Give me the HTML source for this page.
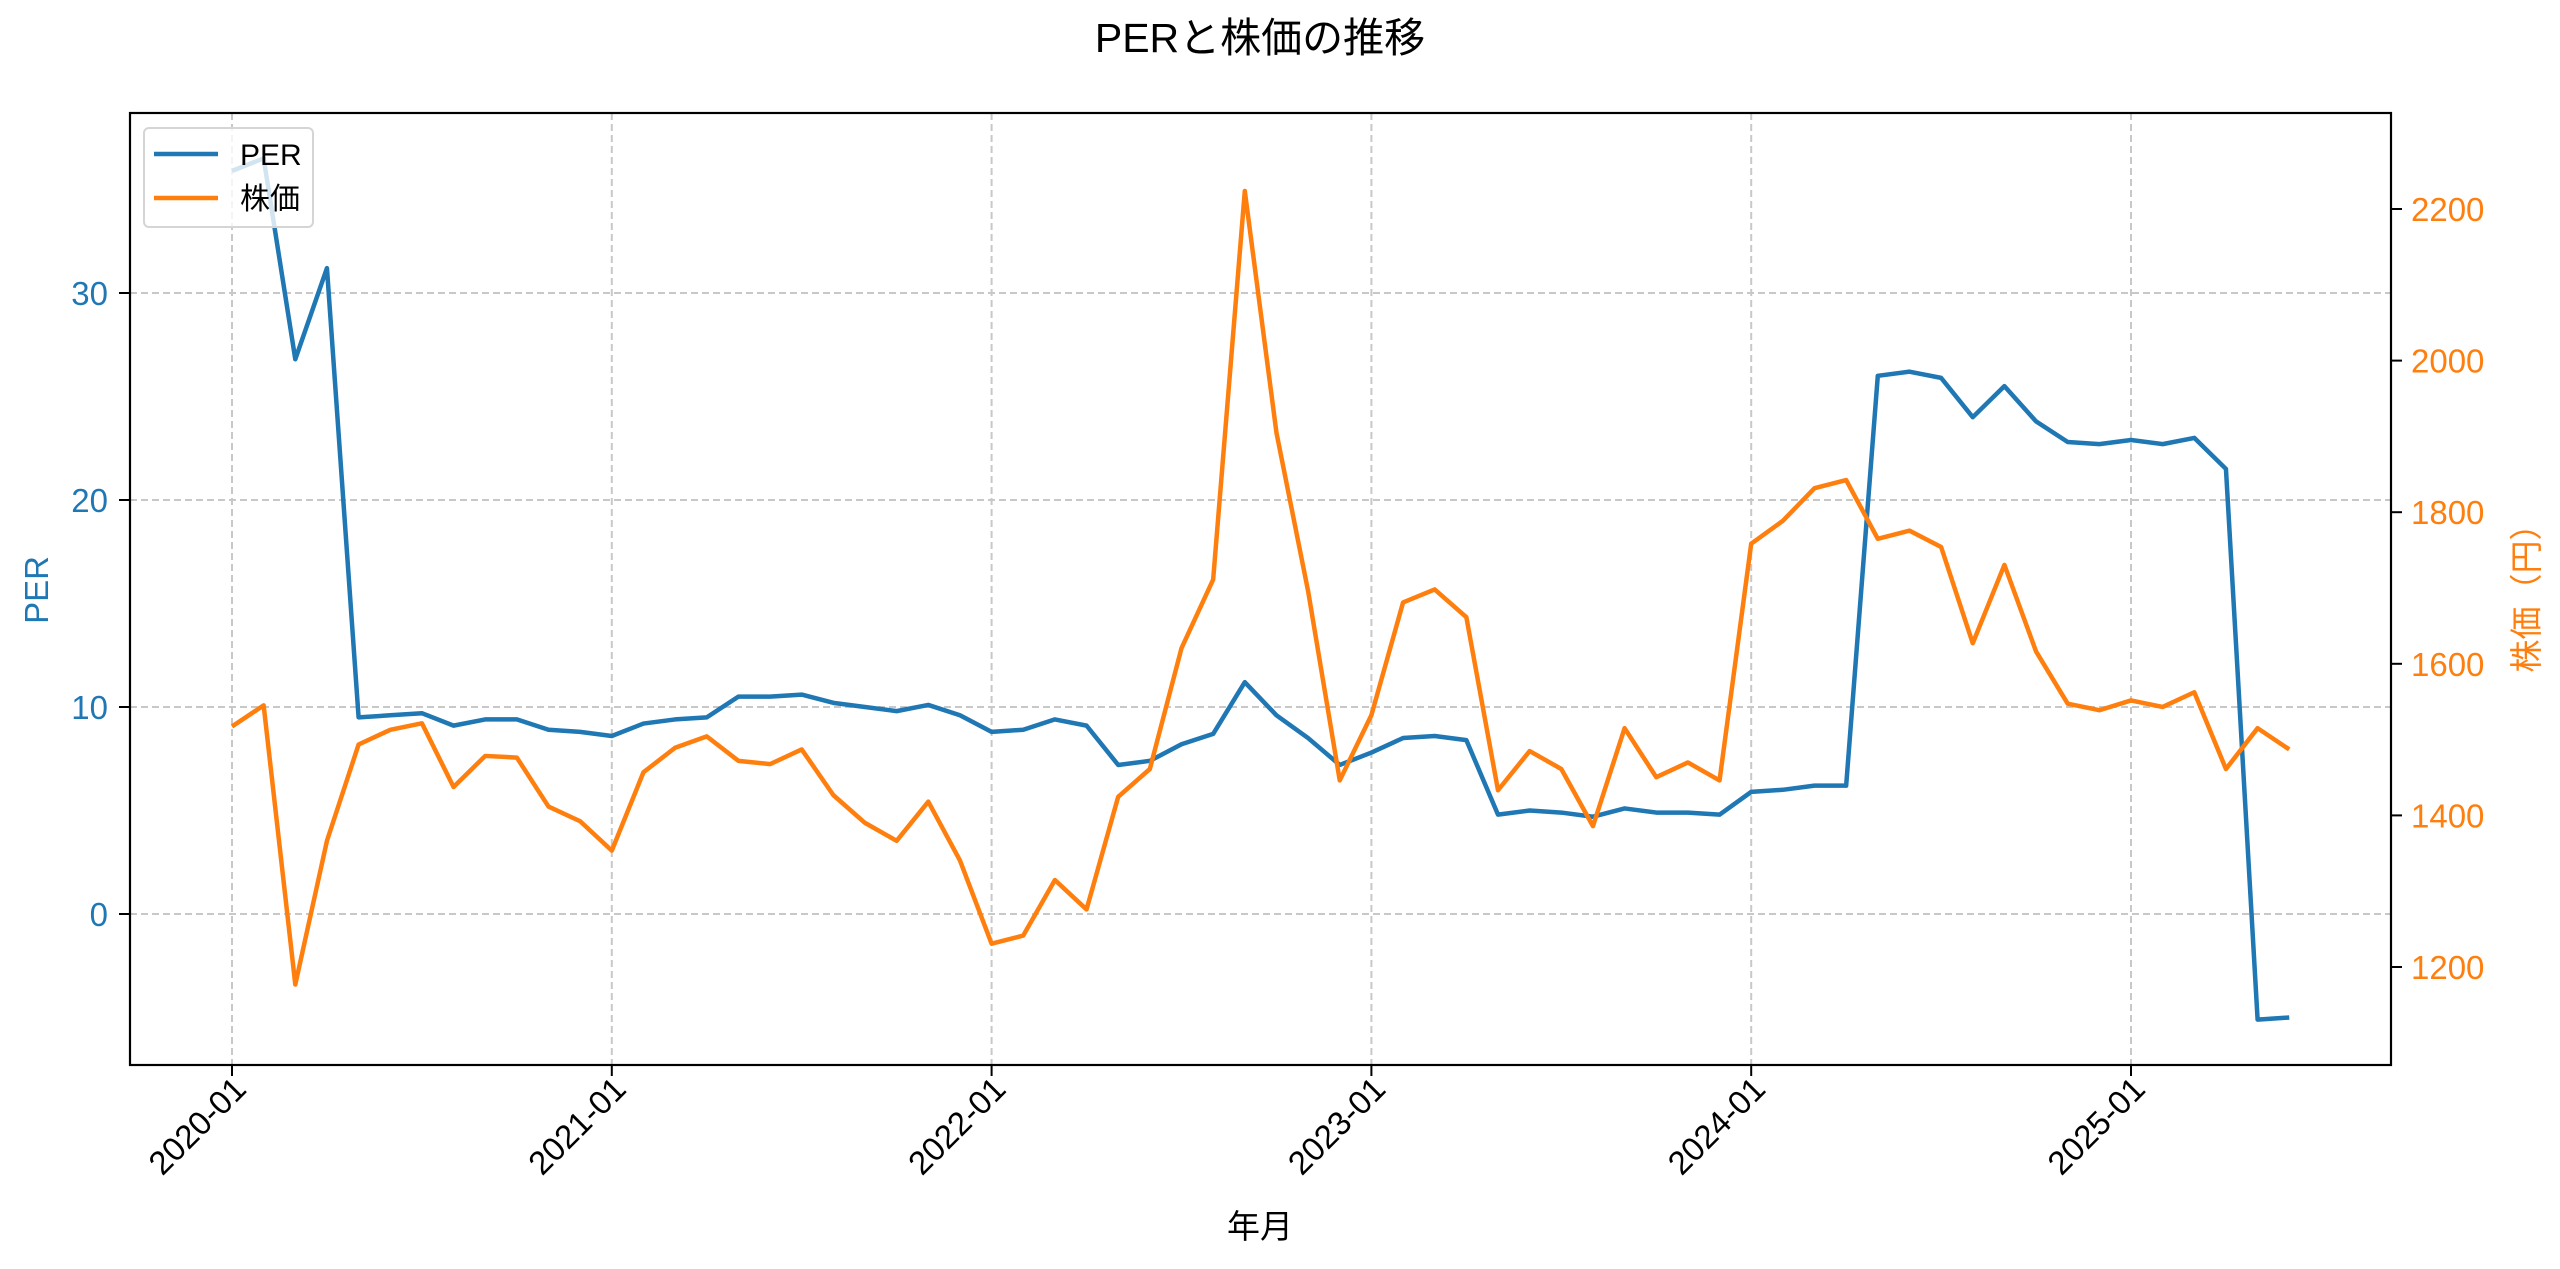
<!DOCTYPE html>
<html><head><meta charset="utf-8"><style>
html,body{margin:0;padding:0;background:#fff;}
svg{display:block;font-family:"Liberation Sans","Noto Sans CJK JP",sans-serif;}
</style></head><body>
<svg id="s" width="2560" height="1269" xmlns="http://www.w3.org/2000/svg"></svg>
<script>
const s=document.getElementById('s');
const L=130,R=2391,T=113,B=1065;
const xo=i=>232+i*31.65;
const py=v=>914-v*20.7;
const ry=p=>967-(p-1200)*0.758;
const per=[35.9,36.5,26.8,31.2,9.5,9.6,9.7,9.1,9.4,9.4,8.9,8.8,8.6,9.2,9.4,9.5,10.5,10.5,10.6,10.2,10.0,9.8,10.1,9.6,8.8,8.9,9.4,9.1,7.2,7.4,8.2,8.7,11.2,9.6,8.5,7.2,7.8,8.5,8.6,8.4,4.8,5.0,4.9,4.7,5.1,4.9,4.9,4.8,5.9,6.0,6.2,6.2,26.0,26.2,25.9,24.0,25.5,23.8,22.8,22.7,22.9,22.7,23.0,21.5,-5.1,-5.0];
const pr=[445,432,603,515,456,447,443,482,463,464,494,503,521,473,458,451,466,468,459,487,504,515,491,527,578,573,539,557,488,471,397,355,117,265,362,478,438,369,361,378,484,460,471,506,446,476,467,478,333,319,299,294,330,325,335,394,346,399,431,435,429,433,424,471,446,459];
let h='';
for(let y=0;y<6;y++){const x=xo(y*12);h+=`<line x1="${x}" y1="${T}" x2="${x}" y2="${B}" stroke="#c8c8c8" stroke-width="2" stroke-dasharray="7,4"/>`;}
[30,20,10,0].forEach(v=>{h+=`<line x1="${L}" y1="${py(v)}" x2="${R}" y2="${py(v)}" stroke="#c8c8c8" stroke-width="2" stroke-dasharray="7,4"/>`;});
h+=`<polyline fill="none" stroke="#1f77b4" stroke-width="4.5" stroke-linejoin="round" points="${per.map((v,i)=>xo(i)+','+py(v)).join(' ')}"/>`;
h+=`<polyline fill="none" stroke="#ff7f0e" stroke-width="4.5" stroke-linejoin="round" points="${pr.map((v,i)=>xo(i)+','+(v*1.6327)).join(' ')}"/>`;
h+=`<rect x="${L}" y="${T}" width="${R-L}" height="${B-T}" fill="none" stroke="#000" stroke-width="2.2"/>`;
[30,20,10,0].forEach(v=>{const y=py(v);h+=`<line x1="${L-11}" y1="${y}" x2="${L}" y2="${y}" stroke="#000" stroke-width="2"/><text x="${L-22}" y="${y+12}" font-size="33" fill="#1f77b4" text-anchor="end">${v}</text>`;});
for(let p=1200;p<=2200;p+=200){const y=ry(p);h+=`<line x1="${R}" y1="${y}" x2="${R+11}" y2="${y}" stroke="#000" stroke-width="2"/><text x="${R+20}" y="${y+12}" font-size="33" fill="#ff7f0e">${p}</text>`;}
for(let k=0;k<6;k++){const x=xo(k*12);h+=`<line x1="${x}" y1="${B}" x2="${x}" y2="${B+11}" stroke="#000" stroke-width="2"/><text transform="translate(${x+16},${B+26}) rotate(-45)" font-size="33" text-anchor="end">${2020+k}-01</text>`;}
h+=`<text x="1260" y="52" font-size="41" text-anchor="middle">PERと株価の推移</text>`;
h+=`<text x="1260" y="1238" font-size="33" text-anchor="middle">年月</text>`;
h+=`<text transform="translate(48,590) rotate(-90)" font-size="33" fill="#1f77b4" text-anchor="middle">PER</text>`;
h+=`<text transform="translate(2538,590) rotate(-90)" font-size="33" fill="#ff7f0e" text-anchor="middle">株価（円）</text>`;
h+=`<rect x="144" y="128" width="169" height="99" rx="5" fill="#fff" fill-opacity="0.8" stroke="#d5d5d5" stroke-width="2"/>`;
h+=`<line x1="154" y1="154" x2="218" y2="154" stroke="#1f77b4" stroke-width="4.5"/><text x="240" y="165" font-size="30">PER</text>`;
h+=`<line x1="154" y1="198" x2="218" y2="198" stroke="#ff7f0e" stroke-width="4.5"/><text x="240" y="209" font-size="30">株価</text>`;
s.innerHTML=h;
</script>
</body></html>
